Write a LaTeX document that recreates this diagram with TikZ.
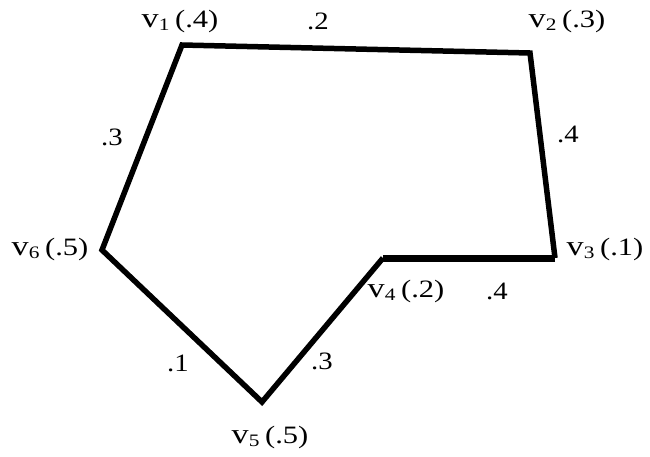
\documentclass[tikz,border=0pt]{standalone}
\usepackage{fontspec}
\setmainfont{Liberation Serif}
\newcommand{\vl}[2]{\scalebox{1.22}[1]{{\fontsize{28}{29}\selectfont v}\textsubscript{#1}\,(.#2)}}
\newcommand{\wl}[1]{\scalebox{1.15}[1]{.#1}}
\begin{document}
\begin{tikzpicture}[x=1pt,y=-1pt,
  edge/.style={line width=5.5pt,line join=miter,line cap=butt},
  thick edge/.style={line width=7pt,line join=miter},
  lbl/.style={inner sep=0pt,font=\fontsize{25}{27}\selectfont},
]
\useasboundingbox (0,0) rectangle (650,456);
\coordinate (v1) at (182,45);
\coordinate (v2) at (530,53);
\coordinate (v3) at (555,258);
\coordinate (v4) at (383,258);
\coordinate (v5) at (262,402);
\coordinate (v6) at (102,250);
\draw[edge] (v4) -- (v5) -- (v6) -- (v1) -- (v2) -- (v3);
\draw[thick edge] (v3) -- (v4);
\node[lbl] (l1) at (180,21) {\vl{1}{4}};
\node[lbl] (l2) at (567,21) {\vl{2}{3}};
\node[lbl] (l3) at (605,249) {\vl{3}{1}};
\node[lbl] (l4) at (406,291) {\vl{4}{2}};
\node[lbl] (l5) at (270,437) {\vl{5}{5}};
\node[lbl] (l6) at (50,249) {\vl{6}{5}};
\node[lbl] (w12) at (318,21) {\wl{2}};
\node[lbl] (w23) at (568,134) {\wl{4}};
\node[lbl] (w61) at (112,137) {\wl{3}};
\node[lbl] (w34) at (497,291) {\wl{4}};
\node[lbl] (w56) at (178,363) {\wl{1}};
\node[lbl] (w45) at (322,361) {\wl{3}};
\end{tikzpicture}
\end{document}
